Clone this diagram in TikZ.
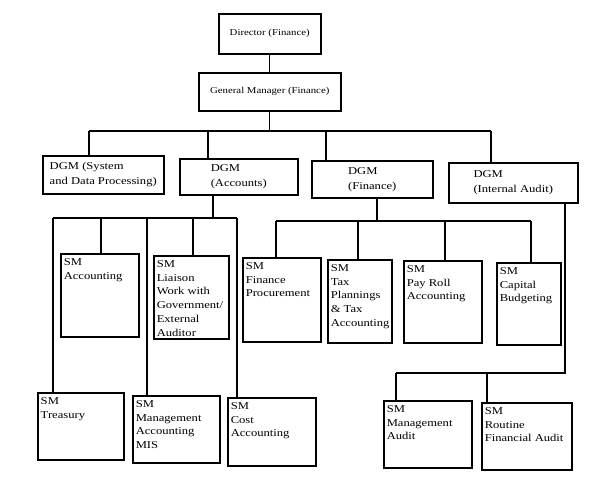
\documentclass[tikz,border=0pt]{standalone}
\usepackage{fontspec}
\setmainfont{Liberation Serif}[FakeStretch=1.2]
\newcommand{\smtext}[3]{\parbox[t][#2][t]{#1}{\raggedright #3}}

\begin{document}
\begin{tikzpicture}[x=1pt,y=-1pt,
  box/.style={draw,line width=1.5pt,anchor=north west,inner sep=0pt,align=center},
  head/.style={box,font=\fontsize{9}{11}\selectfont},
  dgm/.style={box,align=left,font=\fontsize{10.5}{15}\selectfont},
  sm/.style={draw,line width=1.5pt,anchor=north west,inner xsep=3pt,inner ysep=4.5pt,font=\fontsize{10.5}{13.8}\selectfont},
  link/.style={line width=1.1pt}]
\useasboundingbox (0,0) rectangle (606,479);
\node[head,minimum width=102pt,minimum height=40pt] (dir) at (218,13) {Director (Finance)};
\node[head,minimum width=142pt,minimum height=38pt] (gm) at (198,72) {General Manager (Finance)};
\node[dgm,minimum width=121pt,minimum height=38pt] (dsys) at (42,155) {DGM (System\\and Data Processing)};
\node[dgm,minimum width=118pt,minimum height=36pt] (dacc) at (179,158) {DGM\\(Accounts)};
\node[dgm,minimum width=121pt,minimum height=37pt] (dfin) at (311,160) {DGM\\(Finance)};
\node[dgm,minimum width=129pt,minimum height=40pt] (daud) at (448,162) {DGM\\(Internal Audit)};
\node[sm] (acc) at (60,253) {\smtext{72pt}{74pt}{SM\\Accounting}};
\node[sm] (lia) at (153,255) {\smtext{69pt}{74pt}{SM\\Liaison\\Work with\\Government/\\External\\Auditor}};
\node[sm] (pro) at (242,257) {\smtext{72pt}{75pt}{SM\\Finance\\Procurement}};
\node[sm] (tax) at (327,259) {\smtext{58pt}{74pt}{SM\\Tax\\Plannings\\\& Tax\\Accounting}};
\node[sm] (pay) at (403,260) {\smtext{72pt}{73pt}{SM\\Pay Roll\\Accounting}};
\node[sm] (cap) at (496,262) {\smtext{58pt}{73pt}{SM\\Capital\\Budgeting}};
\node[sm] (tre) at (37,392) {\smtext{80pt}{58pt}{SM\\Treasury}};
\node[sm] (mis) at (132,395) {\smtext{81pt}{58pt}{SM\\Management\\Accounting\\MIS}};
\node[sm] (cost) at (227,397) {\smtext{82pt}{59pt}{SM\\Cost\\Accounting}};
\node[sm] (mau) at (383,400) {\smtext{82pt}{58pt}{SM\\Management\\Audit}};
\node[sm] (rfa) at (481,402) {\smtext{84pt}{58pt}{SM\\Routine\\Financial Audit}};
\coordinate (d1) at (89,131);
\coordinate (d2) at (208,131);
\coordinate (d3) at (326,131);
\coordinate (d4) at (491,131);
\coordinate (a0) at (213,218);
\coordinate (a1) at (53,218);
\coordinate (a2) at (101,218);
\coordinate (a3) at (147,218);
\coordinate (a4) at (193,218);
\coordinate (a5) at (237,218);
\coordinate (f0) at (377,221);
\coordinate (f1) at (276,221);
\coordinate (f2) at (358,221);
\coordinate (f3) at (445,221);
\coordinate (f4) at (531,221);
\coordinate (u0) at (565,373);
\coordinate (u1) at (396,373);
\coordinate (u2) at (487,373);
\draw[link] (dir) -- (gm);
\draw[link] (gm.south) -- (gm.south |- d1);
\draw[link] (d1) -- (d4);
\foreach \c/\n in {d1/dsys,d2/dacc,d3/dfin,d4/daud}
  \draw[link] (\c) -- (\c |- \n.north);
\draw[link] (dacc.south -| a0) -- (a0);
\draw[link] (a1) -- (a5);
\foreach \c/\n in {a1/tre,a2/acc,a3/mis,a4/lia,a5/cost}
  \draw[link] (\c) -- (\c |- \n.north);
\draw[link] (dfin.south -| f0) -- (f0);
\draw[link] (f1) -- (f4);
\foreach \c/\n in {f1/pro,f2/tax,f3/pay,f4/cap}
  \draw[link] (\c) -- (\c |- \n.north);
\draw[link] (daud.south -| u0) -- (u0) -- (u1);
\foreach \c/\n in {u1/mau,u2/rfa}
  \draw[link] (\c) -- (\c |- \n.north);
\end{tikzpicture}
\end{document}
